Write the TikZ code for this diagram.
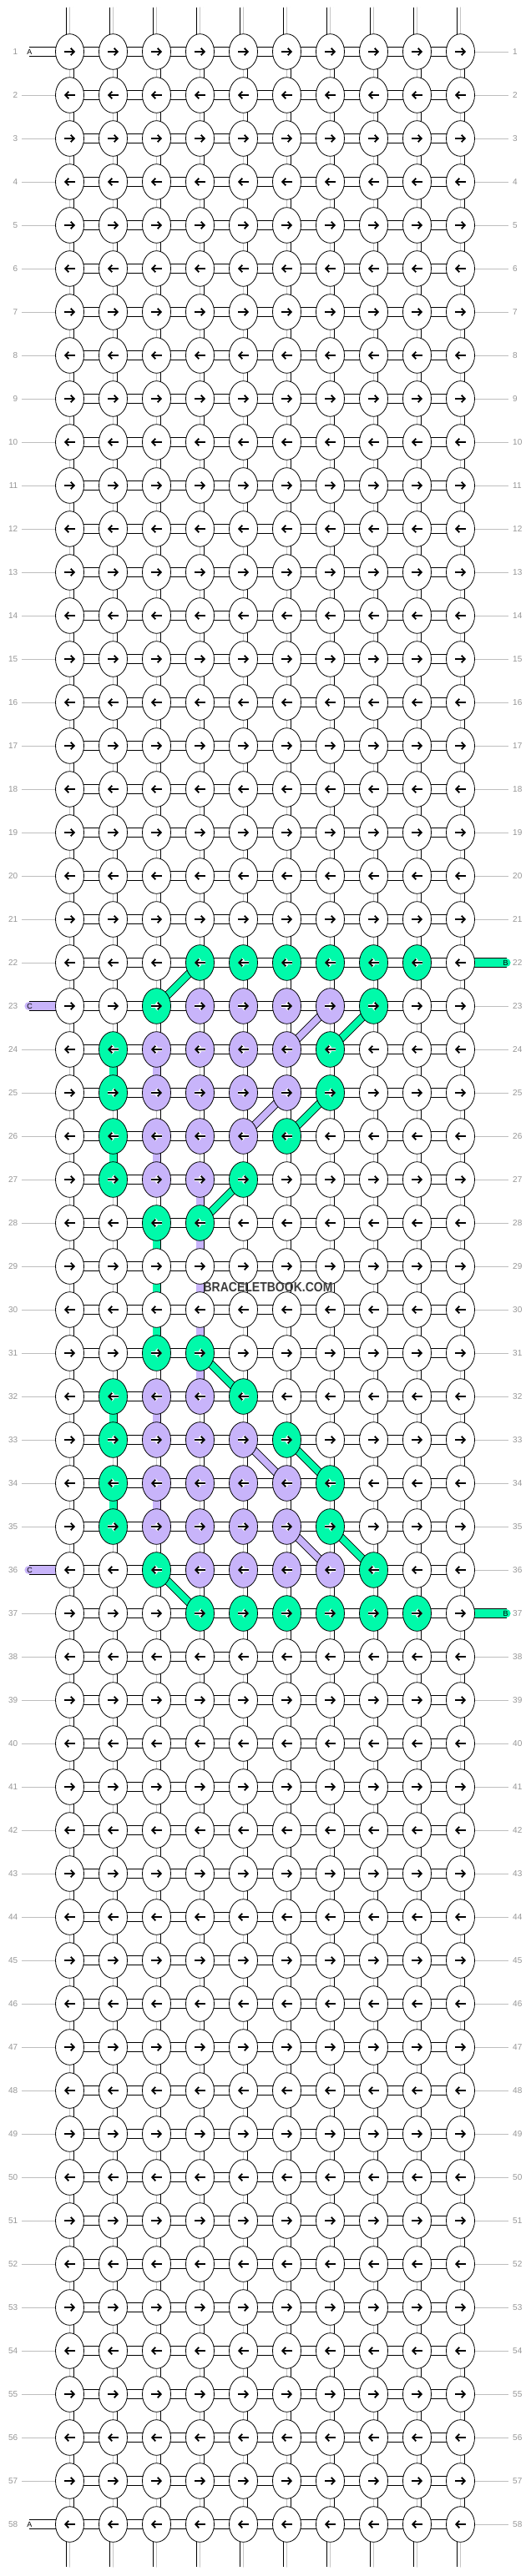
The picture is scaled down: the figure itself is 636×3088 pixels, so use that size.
\documentclass[tikz,border=0pt]{standalone}
\usepackage{fontspec}
\setmainfont{Liberation Sans}
\usetikzlibrary{arrows.meta,shapes.geometric}
\definecolor{bbgreen}{RGB}{0,250,170}
\definecolor{bbpurple}{RGB}{200,180,250}
\definecolor{lblgray}{RGB}{150,150,150}
\definecolor{linegray}{RGB}{190,190,190}
\definecolor{wmgray}{RGB}{60,60,60}
\pgfdeclarelayer{back}
\pgfdeclarelayer{bg}
\pgfsetlayers{back,bg,main}
\begin{document}
\begin{tikzpicture}[x=1pt,y=-1pt,
  knot/.style={ellipse, draw=black, line width=0.8pt, minimum width=34pt, minimum height=42.6pt, inner sep=0pt},
  hconn/.style={draw=white, line width=10.2pt, preaction={draw=black, line width=11.8pt}},
  vconn/.style={draw=gray!45, line width=1.4pt, preaction={draw=black, line width=10pt}, preaction={draw=white, line width=8.4pt}},
  cvconn/.style={draw=#1, line width=8.4pt, preaction={draw=black, line width=10pt}},
  diag/.style={draw=#1, line width=8pt, preaction={draw=black, line width=9.8pt}},
  stub/.style={line cap=round, draw=gray!45, line width=1.4pt, preaction={draw=black, line width=9.6pt}, preaction={draw=white, line width=8pt}},
  hstub/.style={line cap=round, draw=#1, line width=10.2pt, preaction={draw=black, line width=11.8pt}},
  lbl/.style={font=\fontsize{10}{10}\selectfont, text=lblgray, inner sep=0pt},
  lblline/.style={draw=linegray, line width=0.8pt},
  stubtxt/.style={font=\fontsize{9}{9}\selectfont, text=black, inner sep=0pt},
  arr/.style={line width=1.8pt, -{Straight Barb[length=4pt,width=8.5pt]}},
  halo/.style={preaction={draw=white, line width=3.8pt}}
]
\useasboundingbox (0,0) rectangle (636,3088);
\begin{pgfonlayer}{back}
  \fill[white] (0,0) rectangle (636,3088);
\end{pgfonlayer}

% colour map
\foreach \r/\a/\b in {22/4/9,23/3/3,23/8/8,24/2/2,24/7/7,25/2/2,25/7/7,26/2/2,26/6/6,27/2/2,27/5/5,28/3/4,31/3/4,32/2/2,32/5/5,33/2/2,33/6/6,34/2/2,34/7/7,35/2/2,35/7/7,36/3/3,36/8/8,37/4/9}{
  \foreach \c in {\a,...,\b}{\expandafter\xdef\csname cc-\r-\c\endcsname{bbgreen}}}
\foreach \r/\a/\b in {23/4/7,24/3/6,25/3/6,26/3/5,27/3/4,32/3/4,33/3/5,34/3/6,35/3/6,36/4/7}{
  \foreach \c in {\a,...,\b}{\expandafter\xdef\csname cc-\r-\c\endcsname{bbpurple}}}

% knots
\foreach \r in {1,...,58}{
  \foreach \c in {1,...,10}{
    \ifcsname cc-\r-\c\endcsname
      \edef\fc{\csname cc-\r-\c\endcsname}
    \else
      \def\fc{white}
    \fi
    \node[knot, fill=\fc] (n-\r-\c) at ({83.5+52*(\c-1)},{62+52*(\r-1)}) {};
  }
}

% arrows
\foreach \r in {1,...,58}{
  \foreach \c in {1,...,10}{
    \ifcsname cc-\r-\c\endcsname\def\ao{arr,halo}\else\def\ao{arr}\fi
    \ifodd\r \def\sa{-6.5}\def\sb{6.5}\else\def\sa{6.5}\def\sb{-6.5}\fi
    \expandafter\draw\expandafter[\ao] ([xshift=\sa pt]n-\r-\c.center) -- ([xshift=\sb pt]n-\r-\c.center);
  }
}

\begin{pgfonlayer}{bg}
  % row labels and their lines
  \foreach \r in {1,...,58}{
    \node[lbl, anchor=east] (ll-\r) at (21.5,{62+52*(\r-1)}) {\r};
    \node[lbl, anchor=west] (lr-\r) at (614,{62+52*(\r-1)}) {\r};
    \pgfmathtruncatemacro\hasl{(\r==1)||(\r==58)||(\r==23)||(\r==36)}
    \pgfmathtruncatemacro\hasr{(\r==22)||(\r==37)}
    \ifnum\hasl=0 \draw[lblline] ([xshift=4.5pt]ll-\r.east) -- (n-\r-1.center);\fi
    \ifnum\hasr=0 \draw[lblline] (n-\r-10.center) -- ([xshift=-5pt]lr-\r.west);\fi
  }
  % horizontal connectors
  \foreach \r in {1,...,58}{
    \foreach \c in {1,...,9}{
      \pgfmathtruncatemacro\cn{\c+1}
      \draw[hconn] (n-\r-\c.center) -- (n-\r-\cn.center);
    }
  }
  % vertical connectors
  \foreach \r in {1,...,57}{
    \pgfmathtruncatemacro\rn{\r+1}
    \foreach \c in {1,...,10}{
      \draw[vconn] (n-\r-\c.center) -- (n-\rn-\c.center);
    }
  }
  % coloured vertical connectors
  \foreach \r/\c/\col in {24/2/bbgreen,26/2/bbgreen,32/2/bbgreen,34/2/bbgreen,28/3/bbgreen,29/3/bbgreen,30/3/bbgreen,24/3/bbpurple,26/3/bbpurple,32/3/bbpurple,34/3/bbpurple,27/4/bbpurple,28/4/bbpurple,29/4/bbpurple,30/4/bbpurple,31/4/bbpurple}{
    \pgfmathtruncatemacro\rn{\r+1}
    \draw[cvconn=\col] (n-\r-\c.center) -- (n-\rn-\c.center);
  }
  % diagonals
  \foreach \ra/\ca/\rb/\cb/\col in {22/4/23/3/bbgreen,23/8/24/7/bbgreen,25/7/26/6/bbgreen,27/5/28/4/bbgreen,31/4/32/5/bbgreen,33/6/34/7/bbgreen,35/7/36/8/bbgreen,36/3/37/4/bbgreen,23/7/24/6/bbpurple,25/6/26/5/bbpurple,33/5/34/6/bbpurple,35/6/36/7/bbpurple}{
    \draw[diag=\col] (n-\ra-\ca.center) -- (n-\rb-\cb.center);
  }
  % top and bottom strand ends
  \foreach \c in {1,...,10}{
    \coordinate (t-\c) at ({83.5+52*(\c-1)},9);
    \coordinate (b-\c) at ({83.5+52*(\c-1)},3077);
    \draw[stub] (t-\c) -- (n-1-\c.center);
    \draw[stub] (n-58-\c.center) -- (b-\c);
  }
  % side strands
  \foreach \r/\lt/\col in {1/A/white,58/A/white,23/C/bbpurple,36/C/bbpurple}{
    \coordinate (ls-\r) at (34.5,{62+52*(\r-1)});
    \draw[hstub=\col] (ls-\r) -- (n-\r-1.center);
    \node[stubtxt] (lt-\r) at (35.5,{62+52*(\r-1)}) {\lt};
  }
  \foreach \r/\lt/\col in {22/B/bbgreen,37/B/bbgreen}{
    \coordinate (rs-\r) at (606.5,{62+52*(\r-1)});
    \draw[hstub=\col] (n-\r-10.center) -- (rs-\r);
    \node[stubtxt] (rt-\r) at (605.5,{62+52*(\r-1)}) {\lt};
  }
\end{pgfonlayer}

% watermark
\node[font=\bfseries\fontsize{16}{16}\selectfont, text=wmgray, inner sep=0pt, xscale=0.876] (wm) at (321,1543) {BRACELETBOOK.COM};
\end{tikzpicture}
\end{document}
